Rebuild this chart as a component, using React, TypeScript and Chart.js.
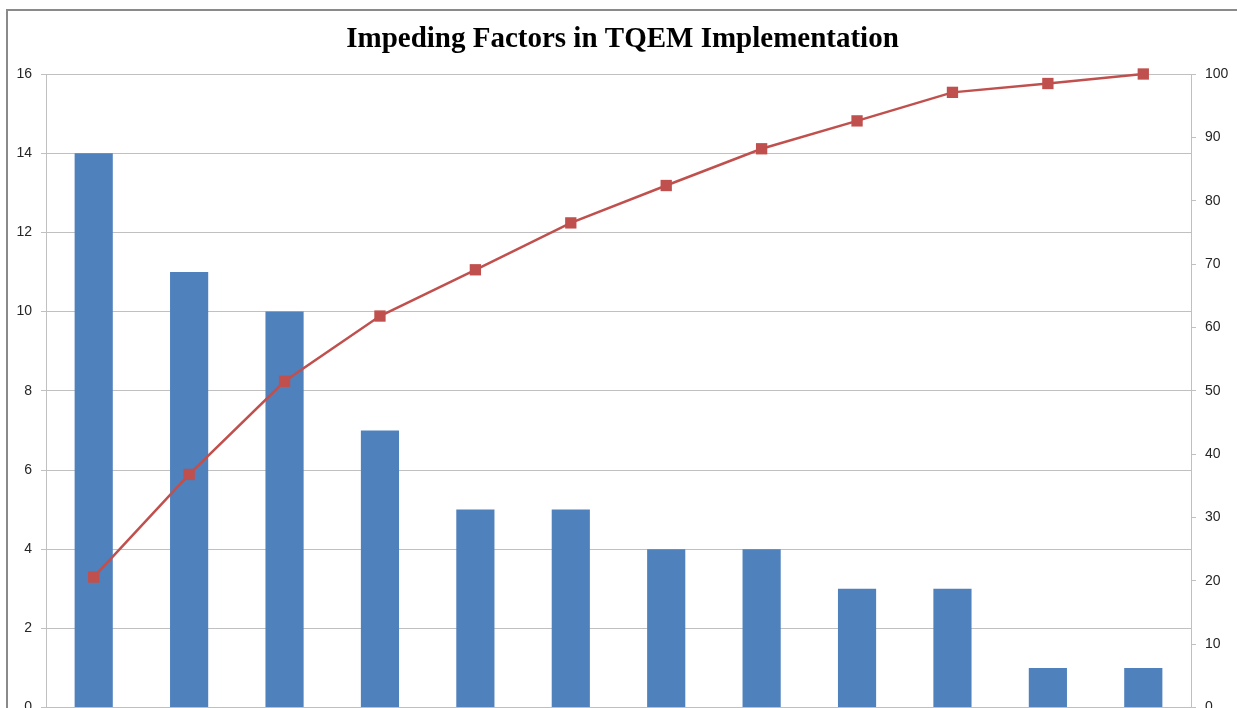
import React, { useEffect, useRef } from "react";
import { Chart, registerables } from "chart.js";

Chart.register(...registerables);

const TITLE = "Impeding Factors in TQEM Implementation";
const categories = ["1", "2", "3", "4", "5", "6", "7", "8", "9", "10", "11", "12"];
const frequencies = [14, 11, 10, 7, 5, 5, 4, 4, 3, 3, 1, 1];
const cumulativePercent = [20.6, 36.8, 51.5, 61.8, 69.1, 76.5, 82.4, 88.2, 92.6, 97.1, 98.5, 100];
const leftTicks = { min: 0, max: 16, step: 2 };
const rightTicks = { min: 0, max: 100, step: 10 };

export default function App() {
  const ref = useRef<HTMLCanvasElement | null>(null);

  useEffect(() => {
    if (!ref.current) return;
    const tickFont = { family: "'Liberation Sans', Arial, sans-serif", size: 14 };
    const chart = new Chart(ref.current, {
      type: "bar",
      data: {
        labels: categories,
        datasets: [
          {
            type: "line",
            data: cumulativePercent,
            yAxisID: "y1",
            borderColor: "#c0504d",
            backgroundColor: "#c0504d",
            borderWidth: 2.5,
            pointStyle: "rect",
            pointRadius: 8,
            pointBorderWidth: 0,
            pointBackgroundColor: "#c0504d",
            tension: 0,
            clip: false,
            order: 0,
          } as any,
          {
            type: "bar",
            data: frequencies,
            yAxisID: "y",
            backgroundColor: "#4f81bd",
            borderWidth: 0,
            categoryPercentage: 1,
            barPercentage: 0.4,
            order: 1,
          },
        ],
      },
      options: {
        animation: false,
        responsive: false,
        maintainAspectRatio: false,
        layout: { padding: 0 },
        plugins: {
          legend: { display: false },
          tooltip: { enabled: false },
          title: {
            display: true,
            text: TITLE,
            color: "#000",
            font: { family: "'Liberation Serif', 'DejaVu Serif', serif", size: 29, weight: "bold", lineHeight: 1.2 },
            padding: { top: 11, bottom: 17.2 },
          },
        },
        scales: {
          x: {
            grid: { display: false },
            border: { display: true, color: "#bfbfbf" },
            ticks: { display: false },
            afterFit: (s: any) => {
              s.height = 8;
            },
          },
          y: {
            position: "left",
            min: leftTicks.min,
            max: leftTicks.max,
            ticks: { stepSize: leftTicks.step, color: "#262626", font: tickFont, padding: 9 },
            grid: { color: "#c0c0c0", tickLength: 5, lineWidth: 1 },
            border: { display: true, color: "#c0c0c0" },
            afterFit: (s: any) => {
              s.width = 38;
            },
          },
          y1: {
            position: "right",
            min: rightTicks.min,
            max: rightTicks.max,
            ticks: { stepSize: rightTicks.step, color: "#262626", font: tickFont, padding: 9 },
            grid: { drawOnChartArea: false, color: "#c0c0c0", tickLength: 5 },
            border: { display: true, color: "#c0c0c0" },
            afterFit: (s: any) => {
              s.width = 46;
            },
          },
        },
      },
    });
    return () => chart.destroy();
  }, []);

  return (
    <div
      style={{
        position: "fixed",
        left: 0,
        top: 0,
        width: 1237,
        height: 708,
        overflow: "hidden",
        background: "#fff",
      }}
    >
      <div
        style={{
          position: "absolute",
          left: 6,
          top: 9,
          width: 1300,
          height: 800,
          border: "2px solid #8a8a8a",
          boxSizing: "border-box",
        }}
      />
      <canvas
        ref={ref}
        width={1229}
        height={714}
        style={{ position: "absolute", left: 8, top: 11, width: 1229, height: 714 }}
      />
    </div>
  );
}
